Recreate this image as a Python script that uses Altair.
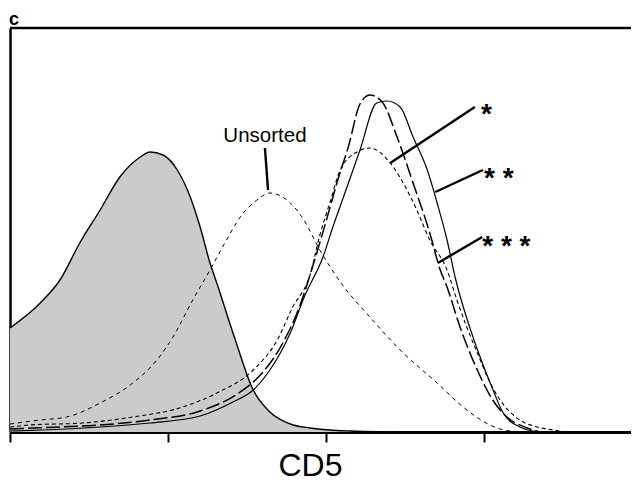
import altair as alt
import pandas as pd

# x: fluorescence channel (0-1023, 4 decades), y: event count
iso_x = [0, 49, 81, 113, 146, 178, 211, 227, 248, 271, 292, 308, 324, 335, 365, 394, 421, 454, 486, 518, 551, 632]
iso_y = [104, 129, 152, 189, 222, 255, 275, 280, 277, 262, 235, 205, 169, 149, 92, 42, 20, 8, 4, 2, 1, 0]

uns_x = [0, 49, 92, 146, 199, 238, 264, 296, 324, 348, 373, 400, 421, 454, 473, 502, 535, 583, 637, 692, 734, 789, 826]
uns_y = [8, 12, 15, 29, 49, 72, 95, 132, 162, 189, 215, 232, 239, 229, 215, 182, 150, 115, 79, 49, 25, 4, 0]

s1_x = [0, 32, 118, 199, 280, 335, 394, 433, 458, 486, 502, 518, 535, 562, 583, 616, 637, 659, 680, 708, 724, 740, 757, 778, 794, 826, 854, 880, 902]
s1_y = [5, 7, 9, 15, 25, 39, 62, 92, 125, 157, 197, 229, 262, 280, 284, 269, 249, 222, 192, 162, 132, 105, 79, 49, 32, 12, 5, 2, 0]

s2_x = [0, 53, 146, 227, 308, 361, 394, 421, 454, 478, 507, 523, 546, 567, 594, 611, 632, 653, 676, 692, 708, 721, 750, 778, 799, 826, 847, 867]
s2_y = [1, 2, 5, 9, 16, 30, 42, 62, 99, 137, 175, 205, 245, 282, 329, 331, 325, 295, 262, 229, 192, 155, 95, 49, 19, 5, 1, 0]

s3_x = [0, 37, 146, 227, 308, 373, 410, 442, 470, 491, 514, 531, 548, 567, 583, 603, 627, 653, 680, 697, 708, 729, 757, 782, 805, 838, 859]
s3_y = [3, 4, 7, 12, 21, 40, 60, 89, 127, 167, 215, 252, 285, 328, 337, 330, 295, 249, 199, 162, 145, 105, 62, 32, 15, 4, 0]

ticks = [0, 256, 512, 768]

# annotation pointers and labels
ptr_x = [413, 616, 689, 693]
ptr_y = [284, 269, 240, 169]
ptr_x2 = [418, 753, 766, 765]
ptr_y2 = [242, 325, 262, 195]
lab_text = ["*", "* *", "* * *"]
lab_x = [763, 768, 765]
lab_y = [309, 245, 177]
uns_text = ["Unsorted"]
uns_lx = [413]
uns_ly = [290]

W, H = 621, 404
xs = alt.Scale(domain=[0, 1006], nice=False)
ys = alt.Scale(domain=[0, 404], nice=False)

def df(x, y):
    return pd.DataFrame({"x": x, "y": y})

iso = df(iso_x, iso_y)
area = alt.Chart(iso).mark_area(color="#cbcbcb", interpolate="monotone").encode(
    x=alt.X("x:Q", scale=xs, axis=alt.Axis(values=ticks, labels=False, tickSize=10, tickWidth=2,
                                          tickColor="black", domainColor="black", domainWidth=3,
                                          title="CD5", titleFontSize=32, titleFont="Liberation Sans",
                                          titleFontWeight="normal", titleColor="black",
                                          titleX=300, titleY=43, titleAlign="center",
                                          titleBaseline="alphabetic", grid=False)),
    y=alt.Y("y:Q", scale=ys, axis=alt.Axis(labels=False, ticks=False, title=None, grid=False,
                                          domainColor="black", domainWidth=2.5)),
)
iso_line = alt.Chart(iso).mark_line(color="black", strokeWidth=1.4, interpolate="monotone").encode(
    x=alt.X("x:Q", scale=xs), y=alt.Y("y:Q", scale=ys))

def line(x, y, dash, w):
    kw = dict(color="black", strokeWidth=w, interpolate="monotone")
    if dash:
        kw["strokeDash"] = dash
    return alt.Chart(df(x, y)).mark_line(**kw).encode(
        x=alt.X("x:Q", scale=xs), y=alt.Y("y:Q", scale=ys))

uns = line(uns_x, uns_y, [4, 4], 1.0)
s1 = line(s1_x, s1_y, [4, 3], 1.1)
s2 = line(s2_x, s2_y, None, 1.2)
s3 = line(s3_x, s3_y, [14, 4], 1.5)

ptr = alt.Chart(pd.DataFrame({"x": ptr_x, "y": ptr_y, "x2": ptr_x2, "y2": ptr_y2})).mark_rule(
    color="black", strokeWidth=2.4).encode(
    x=alt.X("x:Q", scale=xs), y=alt.Y("y:Q", scale=ys), x2="x2:Q", y2="y2:Q")

labs = alt.Chart(pd.DataFrame({"t": lab_text, "x": lab_x, "y": lab_y})).mark_text(
    align="left", baseline="alphabetic", font="Liberation Sans", fontSize=28, fontWeight="bold",
    color="black").encode(x=alt.X("x:Q", scale=xs), y=alt.Y("y:Q", scale=ys), text="t:N")

uns_lab = alt.Chart(pd.DataFrame({"t": uns_text, "x": uns_lx, "y": uns_ly})).mark_text(
    align="center", baseline="alphabetic", font="Liberation Sans", fontSize=20.5, color="black").encode(
    x=alt.X("x:Q", scale=xs), y=alt.Y("y:Q", scale=ys), text="t:N")

top = alt.Chart(pd.DataFrame({"a": [0]})).mark_rule(color="black", strokeWidth=2.5).encode(
    x=alt.value(0), x2=alt.value(W), y=alt.value(0))

panel = alt.Chart(pd.DataFrame({"t": ["c"]})).mark_text(
    align="left", baseline="alphabetic", font="Liberation Sans", fontSize=18, fontWeight="bold",
    color="black").encode(x=alt.value(-1), y=alt.value(-3), text="t:N")

chart = alt.layer(area, iso_line, uns, s1, s2, s3, ptr, labs, uns_lab, top, panel).properties(
    width=W, height=H,
    autosize=alt.AutoSizeParams(type="none"),
    padding={"left": 2, "top": 20, "right": 0, "bottom": 50},
).configure_view(stroke=None).configure(background="white")

chart.save("out.html", embed_options={"renderer": "svg", "actions": False})
